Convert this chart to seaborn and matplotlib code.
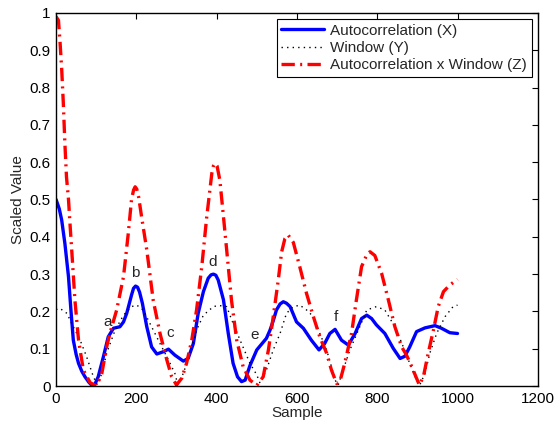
import numpy as np
import pandas as pd
import matplotlib
matplotlib.use("Agg")
import matplotlib.pyplot as plt
import seaborn as sns

# values
auto_x = [0, 8, 14, 22, 31, 37, 43, 50, 56, 64, 72, 82, 91, 98, 105, 118, 130, 143, 159, 168,
          176, 188, 193, 198, 203, 208, 215, 226, 238, 251, 267, 280, 296, 317, 329, 342, 354,
          367, 379, 386, 392, 398, 404, 417, 429, 441, 452, 462, 471, 483, 500, 524, 533, 541,
          549, 558, 566, 574, 583, 599, 616, 636, 655, 669, 682, 695, 711, 728, 745, 761, 774,
          786, 798, 819, 840, 857, 869, 881, 898, 919, 944, 960, 981, 1000]
auto_y = [0.50, 0.475, 0.445, 0.382, 0.293, 0.204, 0.123, 0.085, 0.061, 0.040, 0.025, 0.010,
          0.0, 0.008, 0.025, 0.079, 0.132, 0.155, 0.159, 0.172, 0.195, 0.244, 0.262, 0.268,
          0.265, 0.252, 0.222, 0.159, 0.105, 0.086, 0.092, 0.099, 0.083, 0.067, 0.074, 0.114,
          0.195, 0.253, 0.289, 0.298, 0.300, 0.297, 0.284, 0.231, 0.141, 0.061, 0.025, 0.012,
          0.016, 0.055, 0.097, 0.128, 0.150, 0.175, 0.204, 0.220, 0.226, 0.222, 0.213, 0.172,
          0.155, 0.123, 0.097, 0.114, 0.141, 0.152, 0.123, 0.110, 0.141, 0.181, 0.190, 0.181,
          0.164, 0.141, 0.101, 0.074, 0.080, 0.105, 0.146, 0.156, 0.162, 0.155, 0.143, 0.141]

win_x = [0, 10, 27, 43, 60, 76, 93, 103, 114, 126, 147, 168, 188, 201, 217, 238, 259, 280, 296,
         303, 312, 322, 334, 350, 367, 392, 405, 425, 441, 462, 483, 500, 508, 524, 541, 558,
         574, 590, 607, 624, 641, 657, 674, 686, 695, 703, 715, 732, 753, 774, 798, 819, 844,
         865, 881, 898, 906, 919, 931, 948, 969, 989, 1000]
win_y = [0.205, 0.208, 0.195, 0.159, 0.123, 0.079, 0.025, 0.003, 0.034, 0.088, 0.150, 0.190,
         0.213, 0.217, 0.204, 0.159, 0.114, 0.070, 0.034, 0.005, 0.020, 0.050, 0.090, 0.150,
         0.190, 0.213, 0.216, 0.213, 0.168, 0.114, 0.061, 0.030, 0.008, 0.043, 0.097, 0.141,
         0.195, 0.212, 0.217, 0.204, 0.186, 0.141, 0.097, 0.052, 0.016, 0.003, 0.043, 0.097,
         0.150, 0.204, 0.213, 0.204, 0.159, 0.105, 0.061, 0.016, 0.003, 0.034, 0.088, 0.141,
         0.186, 0.213, 0.217]

prod_x = [0, 6, 10, 14, 18, 22, 26, 31, 35, 39, 47, 56, 68, 85, 101, 114, 126, 134, 151, 168,
          180, 188, 193, 197, 201, 206, 213, 226, 242, 259, 276, 288, 300, 313, 325, 338, 350,
          363, 375, 388, 392, 396, 401, 408, 417, 425, 437, 450, 466, 483, 500, 516, 529, 541,
          553, 562, 570, 578, 591, 607, 624, 641, 657, 674, 686, 699, 707, 719, 736, 748, 761,
          774, 782, 794, 811, 828, 844, 861, 873, 886, 898, 905, 915, 927, 940, 952, 965, 981,
          1000]
prod_y = [0.99, 0.98, 0.92, 0.85, 0.76, 0.65, 0.56, 0.50, 0.43, 0.365, 0.23, 0.123, 0.043,
          0.009, 0.0, 0.034, 0.105, 0.141, 0.204, 0.293, 0.41, 0.50, 0.525, 0.534, 0.528,
          0.505, 0.454, 0.365, 0.23, 0.141, 0.070, 0.025, 0.003, 0.021, 0.061, 0.123, 0.204,
          0.32, 0.45, 0.570, 0.590, 0.597, 0.590, 0.552, 0.454, 0.365, 0.23, 0.123, 0.052,
          0.016, 0.002, 0.025, 0.097, 0.186, 0.28, 0.36, 0.395, 0.405, 0.385, 0.32, 0.248,
          0.186, 0.132, 0.088, 0.043, 0.007, 0.012, 0.061, 0.141, 0.23, 0.32, 0.352, 0.36,
          0.350, 0.302, 0.23, 0.159, 0.105, 0.083, 0.052, 0.021, 0.003, 0.025, 0.088, 0.15,
          0.213, 0.253, 0.271, 0.286]

marks = ["a", "b", "c", "d", "e", "f"]
mark_x = [129, 198, 284, 390, 495, 698]
mark_y = [0.171, 0.304, 0.143, 0.332, 0.137, 0.184]

sns.set_theme(style="white")
plt.rcParams['font.family'] = ['Liberation Sans', 'DejaVu Sans']

fig = plt.figure(figsize=(5.55, 4.29), dpi=100)
ax = fig.add_axes([0.101, 0.100, 0.868, 0.870])

sns.lineplot(x=auto_x, y=auto_y, ax=ax, color="#0000ff", lw=2.4, label="Autocorrelation (X)")
sns.lineplot(x=win_x, y=win_y, ax=ax, color="black", lw=1.0, label="Window (Y)")
sns.lineplot(x=prod_x, y=prod_y, ax=ax, color="#ff0000", lw=2.4,
             label="Autocorrelation x Window (Z)")
ax.lines[1].set_linestyle((0, (1, 3)))
ax.lines[2].set_linestyle((0, (4, 1.6, 0.6, 1.6)))

for m, mx, my in zip(marks, mark_x, mark_y):
    ax.text(mx, my, m, ha="center", va="center", fontsize=11)

ax.set_xlim(0, 1200)
ax.set_ylim(0, 1)
ax.set_xticks(np.arange(0, 1201, 200))
ax.set_yticks(np.arange(0, 1.01, 0.1))
ax.set_yticklabels(["0", "0.1", "0.2", "0.3", "0.4", "0.5", "0.6", "0.7", "0.8", "0.9", "1"])
ax.tick_params(direction="in", top=True, right=True, length=4, width=0.8,
               labelsize=11, colors="black", pad=4)
for s in ax.spines.values():
    s.set_color("black")
    s.set_linewidth(1.0)
ax.set_xlabel("Sample", fontsize=11, labelpad=0)
ax.set_ylabel("Scaled Value", fontsize=11, labelpad=3)

leg = ax.legend(loc="upper right", fontsize=11, frameon=True, fancybox=False,
                edgecolor="black", framealpha=1, handlelength=2.8, borderpad=0.3,
                labelspacing=0.22, handletextpad=0.4, borderaxespad=0.4)
leg.get_frame().set_linewidth(0.8)

fig.savefig("out.png", dpi=100)
